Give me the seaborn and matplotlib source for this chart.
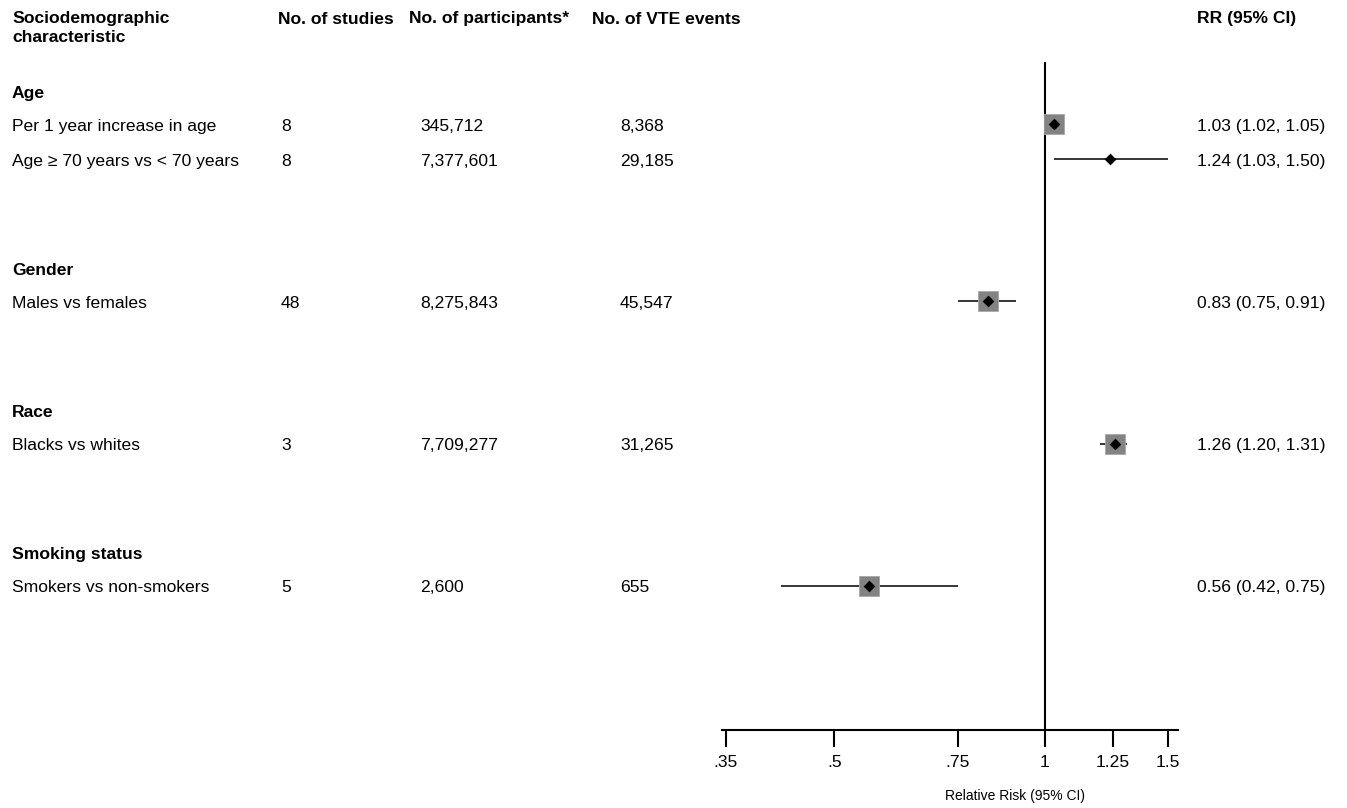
import numpy as np
import pandas as pd
import matplotlib
matplotlib.use("Agg")
import matplotlib.pyplot as plt
import matplotlib.transforms as mtransforms
import seaborn as sns

# table content
groups = ["Age", "Gender", "Race", "Smoking status"]
labels = ["Per 1 year increase in age", "Age \u2265 70 years vs < 70 years",
          "Males vs females", "Blacks vs whites", "Smokers vs non-smokers"]
label_group = ["Age", "Age", "Gender", "Race", "Smoking status"]
n_studies = ["8", "8", "48", "3", "5"]
n_participants = ["345,712", "7,377,601", "8,275,843", "7,709,277", "2,600"]
n_events = ["8,368", "29,185", "45,547", "31,265", "655"]
rr = [1.03, 1.24, 0.83, 1.26, 0.56]
lo = [1.02, 1.03, 0.75, 1.20, 0.42]
hi = [1.05, 1.50, 0.91, 1.31, 0.75]
show_box = [True, False, True, True, True]

xticks = [0.35, 0.5, 0.75, 1, 1.25, 1.5]
xticklabels = [".35", ".5", ".75", "1", "1.25", "1.5"]

# row layout: heading, rows, then blank lines between groups
row_y = []
head_y = []
line = 0
for g in groups:
    head_y.append(line)
    line += 1
    for lab, lg in zip(labels, label_group):
        if lg == g:
            row_y.append(line)
            line += 1
    line += 2

df = pd.DataFrame({"label": labels, "rr": rr, "lo": lo, "hi": hi, "y": row_y,
                   "box": show_box})

sns.set_style("white")
plt.rcParams["font.family"] = ["Liberation Sans", "DejaVu Sans"]
plt.rcParams["text.color"] = "black"
plt.rcParams["xtick.color"] = "black"
plt.rcParams["xtick.labelcolor"] = "black"
FS = 12.6

fig = plt.figure(figsize=(13.47, 8.08), dpi=100)
W, H = 1347, 808
ax = fig.add_axes([722 / W, 1 - 730 / H, (1178 - 722) / W, (730 - 62) / H])
ax.set_xscale("log")
ax.set_xlim(0.3456, 1.549)
ax.set_ylim(18.07, -0.746)

# CI lines
ax.hlines(df["y"], df["lo"], df["hi"], color="black", lw=1.1, zorder=2)
# weight boxes
sns.scatterplot(data=df[df["box"]], x="rr", y="y", marker="s", s=14.4 ** 2,
                color="#838383", edgecolor="#a8a8a8", linewidth=0.6,
                ax=ax, zorder=3, legend=False)
# point estimates
sns.scatterplot(data=df, x="rr", y="y", marker="D", s=6.0 ** 2, color="black",
                edgecolor="black", linewidth=0, ax=ax, zorder=4, legend=False)

# null line
ax.axvline(1, color="black", lw=1.5, zorder=1)

for s in ["top", "right", "left"]:
    ax.spines[s].set_visible(False)
ax.spines["bottom"].set_linewidth(1.5)
ax.spines["bottom"].set_color("black")
ax.set_yticks([])
ax.set_xticks(xticks)
ax.set_xticklabels(xticklabels, fontsize=FS)
ax.xaxis.set_minor_locator(matplotlib.ticker.NullLocator())
ax.tick_params(axis="x", direction="out", length=12, width=1.5, pad=6,
               bottom=True, colors="black")
ax.set_xlabel("")
ax.set_ylabel("")
fig.text(1015 / W, 1 - 796 / H, "Relative Risk (95% CI)", fontsize=10,
         ha="center", va="center")

# text columns (x in figure pixels, y in data rows)
tr = mtransforms.blended_transform_factory(fig.transFigure, ax.transData)
col_x = {"label": 12, "studies": 281, "part": 420, "events": 620, "rr": 1197}
ROW_SHIFT = 0.07   # small baseline nudge for row text
HEAD_SHIFT = 0.13  # headings sit a little lower

def put(xpx, y, s, **kw):
    ax.text(xpx / W, y, s, transform=tr, fontsize=FS, va="center",
            ha="left", clip_on=False, color="black", **kw)

for g, y in zip(groups, head_y):
    put(col_x["label"], y + HEAD_SHIFT, g, fontweight="bold")
for i, r in df.iterrows():
    y = r["y"] + ROW_SHIFT
    put(col_x["label"], y, r["label"])
    put(col_x["studies"], y, n_studies[i])
    put(col_x["part"], y, n_participants[i])
    put(col_x["events"], y, n_events[i])
    put(col_x["rr"], y, f"{rr[i]:.2f} ({lo[i]:.2f}, {hi[i]:.2f})")

# header
def head(xpx, ypx, s):
    fig.text(xpx / W, 1 - ypx / H, s, fontsize=FS, fontweight="bold",
             ha="left", va="center", color="black")

head(12, 19, "Sociodemographic")
head(12, 38, "characteristic")
head(278, 19, "No. of studies")
head(409, 19, "No. of participants*")
head(592, 19, "No. of VTE events")
head(1197, 19, "RR (95% CI)")

fig.savefig("out.png", dpi=100)
